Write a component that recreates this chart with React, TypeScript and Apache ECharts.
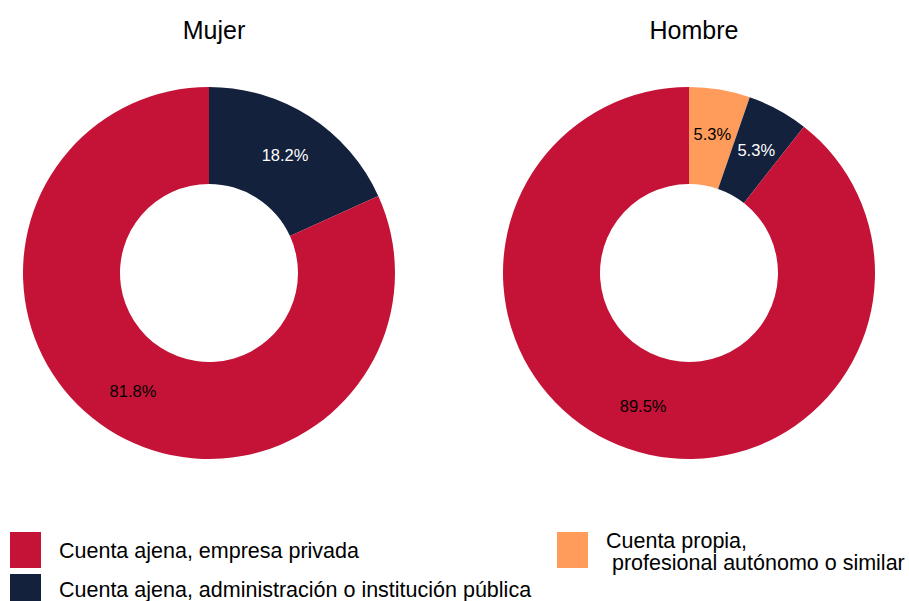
import React, { useEffect, useRef } from "react";
import * as echarts from "echarts";

const categories = [
  "Cuenta propia,\n profesional autónomo o similar",
  "Cuenta ajena, administración o institución pública",
  "Cuenta ajena, empresa privada",
];
const mujerValues = [0, 18.2, 81.8];
const hombreValues = [5.3, 5.3, 89.5];
const groups = ["Mujer", "Hombre"];
const colors = ["#FF9C5B", "#14213D", "#C41337"];
const labelColors = ["#000000", "#FFFFFF", "#000000"];

const FONT = "Liberation Sans, Arial, sans-serif";

function buildData(values: number[]) {
  return values.map((v, i) => ({
    name: categories[i],
    value: v,
    itemStyle: { color: colors[i] },
    label: { show: v > 0, color: labelColors[i] },
  }));
}

export default function App() {
  const ref = useRef<HTMLDivElement>(null);
  useEffect(() => {
    if (!ref.current) return;
    const chart = echarts.init(ref.current, null, { renderer: "svg" });
    const centers = [209, 689];
    const pieCommon = {
      type: "pie",
      radius: [89, 186],
      startAngle: 90,
      clockwise: true,
      avoidLabelOverlap: false,
      label: {
        position: "inside",
        formatter: (p: any) => p.value.toFixed(1) + "%",
        fontSize: 16.5,
        fontFamily: FONT,
      },
      labelLine: { show: false },
      emphasis: { disabled: true },
    };
    const legendItems = [
      { idx: 2, x: 10, y: 532, tx: 59, ty: 551 },
      { idx: 1, x: 10, y: 574, tx: 59, ty: 590 },
      { idx: 0, x: 557, y: 532, tx: 606, ty: 552 },
    ];
    const graphic: any[] = [];
    legendItems.forEach((it) => {
      graphic.push({
        type: "rect",
        shape: { x: it.x, y: it.y, width: 31, height: 36 },
        style: { fill: colors[it.idx] },
      });
      graphic.push({
        type: "text",
        x: it.tx,
        y: it.ty,
        style: {
          text: categories[it.idx],
          fill: "#000",
          fontSize: 21.5,
          fontFamily: FONT,
          verticalAlign: "middle",
          align: "left",
          lineHeight: 22,
        },
      });
    });
    chart.setOption({
      animation: false,
      backgroundColor: "#ffffff",
      title: groups.map((g, i) => ({
        text: g,
        left: centers[i],
        top: 12,
        textAlign: "center",
        textStyle: { fontSize: 25, fontWeight: "normal", color: "#000", fontFamily: FONT },
      })),
      series: [
        { ...pieCommon, name: groups[0], center: [centers[0], 273], data: buildData(mujerValues) },
        { ...pieCommon, name: groups[1], center: [centers[1], 273], data: buildData(hombreValues) },
      ],
      graphic,
    });
    return () => chart.dispose();
  }, []);
  return (
    <div
      ref={ref}
      style={{ position: "fixed", left: 0, top: 0, width: 909, height: 601 }}
    />
  );
}
